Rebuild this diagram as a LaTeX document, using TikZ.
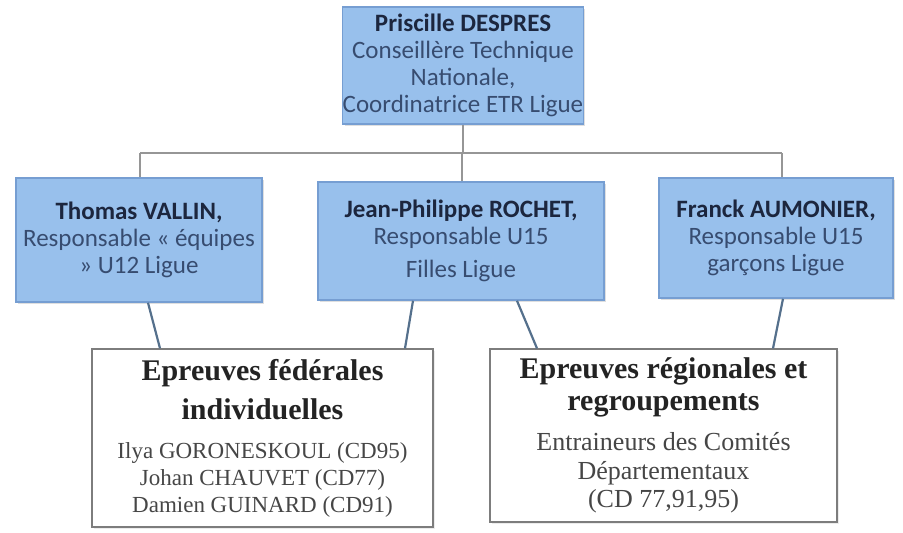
\documentclass[tikz,border=0pt]{standalone}
\usepackage{fontspec}
\setmainfont{Liberation Serif}
\newfontfamily\calib{Carlito}
\usetikzlibrary{shadows}
\definecolor{boxblue}{RGB}{152,192,236}
\definecolor{boxedge}{RGB}{118,158,210}
\definecolor{namecol}{RGB}{28,38,62}
\definecolor{subcol}{RGB}{55,76,112}
\definecolor{treecol}{RGB}{150,150,150}
\definecolor{linkcol}{RGB}{85,112,140}
\definecolor{framecol}{RGB}{125,125,125}
\definecolor{titlecol}{RGB}{35,35,35}
\definecolor{bodycol}{RGB}{70,70,70}
\newcommand{\ttl}[1]{{\fontsize{30}{32}\selectfont\bfseries\color{titlecol}#1}}
\newcommand{\nme}[1]{{\bfseries\color{namecol}#1}}
\begin{document}
\begin{tikzpicture}[x=1pt,y=-1pt,
  bluebox/.style={draw=boxedge,line width=1.5pt,fill=boxblue,align=center,inner sep=0pt,
    drop shadow={opacity=0.25,shadow xshift=2pt,shadow yshift=-2pt},
    font=\calib\fontsize{25}{27}\selectfont,text=subcol},
  whitebox/.style={draw=framecol,line width=1.3pt,fill=white,align=center,inner sep=0pt,
    drop shadow={opacity=0.15,shadow xshift=2pt,shadow yshift=-2pt},text=bodycol},
  tree/.style={draw=treecol,line width=1.6pt},
  link/.style={draw=linkcol,line width=2.2pt}]
\useasboundingbox (0,0) rectangle (903,533);
\fill[white] (0,0) rectangle (903,533);

\coordinate (hub) at (462,153);
\coordinate (lc) at (140,153);
\coordinate (rc) at (782,153);

\node[bluebox,minimum width=240pt,minimum height=117pt] (top) at (463,65.5)
  {\nme{Priscille DESPRES}\\Conseillère Technique\\Nationale,\\Coordinatrice ETR Ligue};

\draw[tree] (top.south) -- (top.south |- hub);
\draw[tree] (lc) -- (rc);

\node[bluebox,minimum width=246pt,minimum height=124pt] (left) at (139,240)
  {\nme{Thomas VALLIN,}\\Responsable « équipes\\» U12 Ligue};
\node[bluebox,minimum width=286pt,minimum height=118pt] (mid) at (461,241)
  {\nme{Jean-Philippe ROCHET,}\\Responsable U15\\[6pt]Filles Ligue};
\node[bluebox,minimum width=234pt,minimum height=120pt] (right) at (776,238)
  {\nme{Franck AUMONIER,}\\Responsable U15\\garçons Ligue};

\draw[tree] (hub) -- (hub |- mid.north);
\draw[tree] (lc) -- (lc |- left.north);
\draw[tree] (rc) -- (rc |- right.north);

\node[whitebox,minimum width=341pt,minimum height=178pt,font=\fontsize{23}{27}\selectfont] (bl) at (262.5,438)
  {\ttl{Epreuves fédérales}\\[11pt]\ttl{individuelles}\\[12pt]
   Ilya GORONESKOUL (CD95)\\Johan CHAUVET (CD77)\\Damien GUINARD (CD91)};
\node[whitebox,minimum width=347pt,minimum height=173pt,font=\fontsize{26}{28.5}\selectfont] (br) at (663.5,435.5)
  {\ttl{Epreuves régionales et}\\[3.5pt]\ttl{regroupements}\\[11.5pt]
   Entraineurs des Comités\\Départementaux\\(CD 77,91,95)};

\draw[link] (148,0 |- left.south) -- (160,0 |- bl.north);
\draw[link] (413,0 |- mid.south) -- (405,0 |- bl.north);
\draw[link] (517,0 |- mid.south) -- (537,0 |- br.north);
\draw[link] (783,0 |- right.south) -- (773,0 |- br.north);
\end{tikzpicture}
\end{document}
